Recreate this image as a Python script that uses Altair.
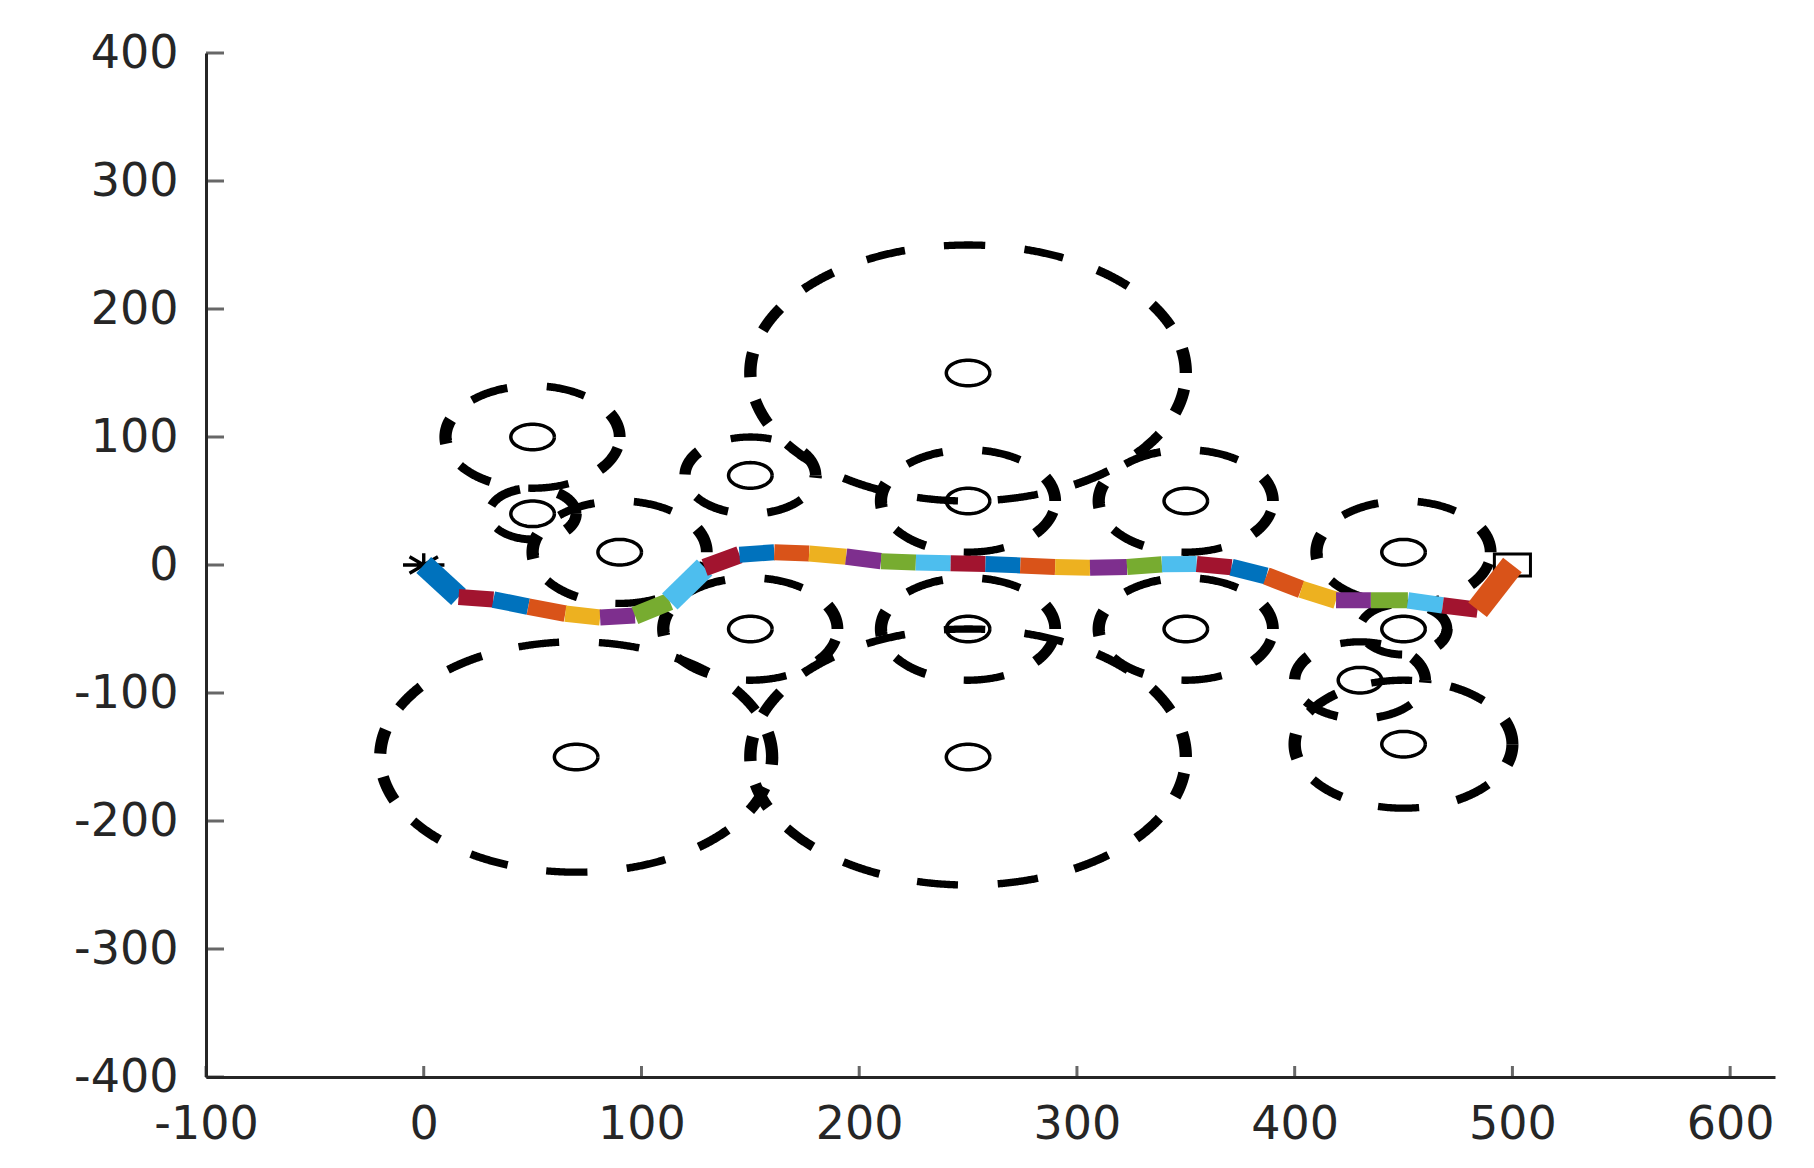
import math
import pandas as pd
import altair as alt

# ---------------- data ----------------
obstacle_x = [50, 50, 90, 150, 250, 250, 350, 450, 150, 250, 350, 450, 430, 450, 70, 250]
obstacle_y = [100, 40, 10, 70, 150, 50, 50, 10, -50, -50, -50, -50, -90, -140, -150, -150]
safety_radius = [40, 20, 40, 30, 100, 40, 40, 40, 40, 40, 40, 20, 30, 50, 90, 100]
obstacle_radius = 10

path_x = [0, 16, 32, 48, 65, 81, 97, 113, 129, 145, 161, 177, 194, 210, 226, 242,
          258, 274, 290, 306, 323, 339, 355, 371, 387, 403, 419, 435, 452, 468, 484, 500]
path_y = [0, -25, -27, -32.5, -38, -41, -39.5, -28.5, -2, 8, 10, 9, 6.5, 3, 2, 1.3,
          0.8, -0.3, -1.6, -2.1, -1.6, 0.5, 0.8, -1.8, -8.6, -19, -27.5, -27.6, -27.6, -31.5, -35, 0]
# colour of each path segment (index into the MATLAB colour order)
segment_color_index = [0,
                       6, 0, 1, 2, 3, 4, 5,
                       6, 0, 1, 2, 3, 4, 5,
                       6, 0, 1, 2, 3, 4, 5,
                       6, 0, 1, 2, 3, 4, 5,
                       6, 1]
matlab_colors = ["#0072BD", "#D95319", "#EDB120", "#7E2F8E", "#77AC30", "#4DBEEE", "#A2142F"]

start_x, start_y = [0], [0]
goal_x, goal_y = [500], [0]

x_ticks = [-100, 0, 100, 200, 300, 400, 500, 600]
y_ticks = [-400, -300, -200, -100, 0, 100, 200, 300, 400]

# ---------------- layout / style ----------------
W, H = 1569, 1024
X_DOMAIN = [-100, 620.6]
Y_DOMAIN = [-400, 400]
px_x = W / (X_DOMAIN[1] - X_DOMAIN[0])
px_y = H / (Y_DOMAIN[1] - Y_DOMAIN[0])
stretch = px_x / px_y

DASH = 19.0      # dash length (data units along the arc)
PERIOD = 37.3    # dash + gap
DASH_W = 7.3
PATH_W = 16.0
AX = "#262626"


def thickness(w, ux, uy):
    n = math.hypot(ux, uy)
    c, s = ux / n, uy / n
    return w * stretch / math.sqrt((stretch * c) ** 2 + s ** 2)


# dashed safety circles, drawn dash by dash (pattern starts at angle 0, CCW)
dash_rows = []
did = 0
for cx, cy, R in zip(obstacle_x, obstacle_y, safety_radius):
    L = 2 * math.pi * R
    k = 0
    while k * PERIOD < L - 1e-9:
        s0 = k * PERIOD
        s1 = min(s0 + DASH, L)
        n = max(int((s1 - s0) / 0.5), 2)
        tm = (s0 + s1) / 2 / R
        sw = thickness(DASH_W, -math.sin(tm), math.cos(tm))
        for i in range(n + 1):
            t = (s0 + (s1 - s0) * i / n) / R
            dash_rows.append(dict(dash=did, k=i, x=cx + R * math.cos(t),
                                  y=cy + R * math.sin(t), sw=sw))
        did += 1
        k += 1
dash_df = pd.DataFrame(dash_rows)

# small obstacle circles
circ_rows = []
for j, (cx, cy) in enumerate(zip(obstacle_x, obstacle_y)):
    for i in range(73):
        t = 2 * math.pi * i / 72
        circ_rows.append(dict(c=j, k=i, x=cx + obstacle_radius * math.cos(t),
                              y=cy + obstacle_radius * math.sin(t)))
circ_df = pd.DataFrame(circ_rows)

# path segments
seg_rows = []
seg_ids = []
seg_cols = []
for j in range(len(path_x) - 1):
    sid = f"s{j:02d}"
    seg_ids.append(sid)
    seg_cols.append(matlab_colors[segment_color_index[j]])
    dx = path_x[j + 1] - path_x[j]
    dy = path_y[j + 1] - path_y[j]
    sw = thickness(PATH_W, dx, dy)
    for i in (0, 1):
        seg_rows.append(dict(seg=sid, k=i, x=path_x[j + i], y=path_y[j + i], sw=sw))
seg_df = pd.DataFrame(seg_rows)

ytick_df = pd.DataFrame(dict(x=[X_DOMAIN[0]] * len(y_ticks), y=y_ticks))
xtick_df = pd.DataFrame(dict(x=x_ticks, y=[Y_DOMAIN[0]] * len(x_ticks)))
start_df = pd.DataFrame(dict(x=start_x, y=start_y))
goal_df = pd.DataFrame(dict(x=goal_x, y=goal_y))

xs = alt.Scale(domain=X_DOMAIN, nice=False, zero=False)
ys = alt.Scale(domain=Y_DOMAIN, nice=False, zero=False)
FONT = "DejaVu Sans"
x_axis = alt.Axis(values=x_ticks, ticks=False, tickSize=0, grid=False, title=None,
                  labelFont=FONT, labelFontSize=46, labelColor=AX, labelPadding=25,
                  domainColor=AX, domainWidth=3, labelFlush=False, labelOverlap=False,
                  labelExpr="toString(datum.value)")
y_axis = alt.Axis(values=y_ticks, ticks=False, tickSize=0, grid=False, title=None,
                  labelFont=FONT, labelFontSize=46, labelColor=AX, labelPadding=28,
                  domainColor=AX, domainWidth=3, labelFlush=False, labelOverlap=False,
                  labelExpr="toString(datum.value)")


def X():
    return alt.X("x:Q", scale=xs, axis=x_axis)


def Y():
    return alt.Y("y:Q", scale=ys, axis=y_axis)


dashes = alt.Chart(dash_df).mark_line(color="black", strokeCap="butt").encode(
    x=X(), y=Y(), detail="dash:N", order="k:Q",
    strokeWidth=alt.StrokeWidth("sw:Q", scale=None))

circles = alt.Chart(circ_df).mark_line(color="black", strokeWidth=3.5).encode(
    x=X(), y=Y(), detail="c:N", order="k:Q")

yt = alt.Chart(ytick_df).mark_tick(orient="horizontal", size=18, thickness=3,
                                    color=AX, xOffset=9).encode(x=X(), y=Y())
xt = alt.Chart(xtick_df).mark_tick(orient="vertical", size=11, thickness=3,
                                    color=AX, yOffset=-5.5).encode(x=X(), y=Y())

ASTER = "M-1.75,0L1.75,0M0,-1L0,1M-1.2,-0.7L1.2,0.7M-1.2,0.7L1.2,-0.7"
SQUARE = "M-1.64,-1L1.64,-1L1.64,1L-1.64,1Z"
start_m = alt.Chart(start_df).mark_point(shape=ASTER, size=560, filled=False,
                                         stroke="black", strokeWidth=3.4,
                                         opacity=1).encode(x=X(), y=Y())
goal_m = alt.Chart(goal_df).mark_point(shape=SQUARE, size=484, filled=False,
                                       stroke="black", strokeWidth=3,
                                       opacity=1).encode(x=X(), y=Y())

path = alt.Chart(seg_df).mark_line(strokeCap="butt").encode(
    x=X(), y=Y(), detail="seg:N", order="k:Q",
    color=alt.Color("seg:N", scale=alt.Scale(domain=seg_ids, range=seg_cols), legend=None),
    strokeWidth=alt.StrokeWidth("sw:Q", scale=None))

chart = alt.layer(dashes, circles, yt, xt, start_m, goal_m, path).properties(
    width=W, height=H,
    padding={"left": 198, "top": 45, "right": 31, "bottom": 83},
    autosize=alt.AutoSizeParams(type="none"),
    background="white",
).configure_view(stroke=None)

chart.save("out.html", embed_options={"renderer": "svg", "actions": False})
